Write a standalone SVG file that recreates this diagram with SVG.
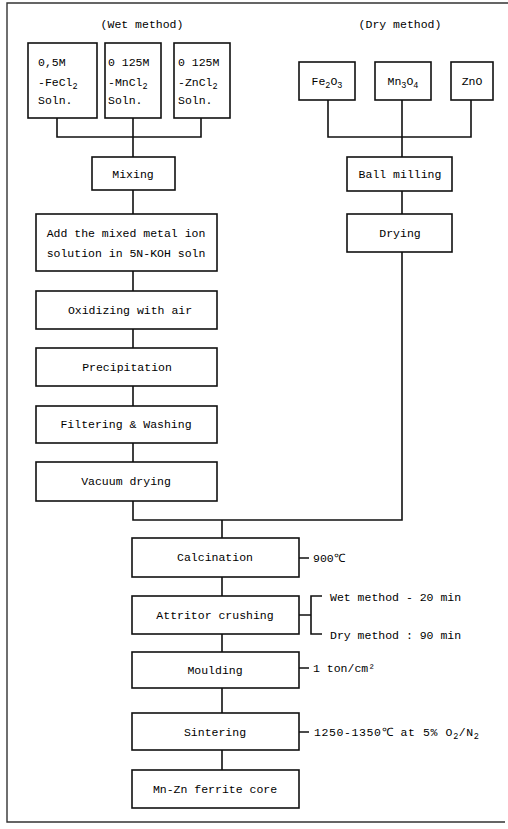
<svg xmlns="http://www.w3.org/2000/svg" width="508" height="829" viewBox="0 0 508 829">
<style>
.box{fill:#fff;stroke:#111;stroke-width:1.6}
.ln{fill:none;stroke:#111;stroke-width:1.6}
.frame{fill:none;stroke:#333;stroke-width:1.4}
text{font-family:"Liberation Mono","DejaVu Sans Mono",monospace;font-size:11.5px;fill:#000}
.c{text-anchor:middle}
.s{font-size:8.5px}
</style>
<rect width="508" height="829" fill="#fff"/>
<path class="frame" d="M508 3H7V822H505"/>
<g id="headers">
<text class="c" x="142" y="28">(Wet method)</text>
<text class="c" x="400" y="28">(Dry method)</text>
</g>
<g id="connectors">
<path class="ln" d="M57 118V137H201V118M133 118V157"/>
<path class="ln" d="M328 100V137H471V100M402 100V157"/>
<path class="ln" d="M133 190V214M133 271V291M133 329V348M133 386V406M133 443V462"/>
<path class="ln" d="M402 191V214"/>
<path class="ln" d="M133 501V520H402V252"/>
<path class="ln" d="M222 520V538M222 577V596M222 634V652M222 688V713M222 750V770"/>
<path class="ln" d="M299 558H309M299 615H311M322 596H311V634H322M299 668H309M299 732H309"/>
</g>
<g id="wet-fecl2"><rect class="box" x="28" y="43" width="69" height="75"/>
<text x="38" y="66">0,5M</text><text x="38" y="86">-FeCl<tspan class="s" dy="3">2</tspan></text><text x="38" y="104">Soln.</text></g>
<g id="wet-mncl2"><rect class="box" x="105" y="43" width="56" height="75"/>
<text x="108" y="66">0 125M</text><text x="108" y="86">-MnCl<tspan class="s" dy="3">2</tspan></text><text x="108" y="104">Soln.</text></g>
<g id="wet-zncl2"><rect class="box" x="174" y="43" width="56" height="75"/>
<text x="178" y="66">0 125M</text><text x="178" y="86">-ZnCl<tspan class="s" dy="3">2</tspan></text><text x="178" y="104">Soln.</text></g>
<g id="dry-fe2o3"><rect class="box" x="299" y="62" width="56" height="38"/>
<text class="c" x="327" y="85">Fe<tspan class="s" dy="3">2</tspan><tspan dy="-3">O</tspan><tspan class="s" dy="3">3</tspan></text></g>
<g id="dry-mn3o4"><rect class="box" x="375" y="62" width="56" height="38"/>
<text class="c" x="403" y="85">Mn<tspan class="s" dy="3">3</tspan><tspan dy="-3">O</tspan><tspan class="s" dy="3">4</tspan></text></g>
<g id="dry-zno"><rect class="box" x="451" y="62" width="42" height="38"/>
<text class="c" x="472" y="85">ZnO</text></g>
<g id="mixing"><rect class="box" x="92" y="157" width="83" height="33"/><text class="c" x="133" y="178">Mixing</text></g>
<g id="ball-milling"><rect class="box" x="347" y="157" width="105" height="34"/><text class="c" x="400" y="178">Ball milling</text></g>
<g id="drying"><rect class="box" x="347" y="214" width="105" height="38"/><text class="c" x="400" y="237">Drying</text></g>
<g id="add-solution"><rect class="box" x="36" y="214" width="181" height="57"/>
<text class="c" x="126" y="237">Add the mixed metal ion</text><text class="c" x="126" y="257">solution in 5N-KOH soln</text></g>
<g id="oxidizing"><rect class="box" x="36" y="291" width="181" height="38"/><text class="c" x="130" y="314">Oxidizing with air</text></g>
<g id="precipitation"><rect class="box" x="36" y="348" width="181" height="38"/><text class="c" x="127" y="371">Precipitation</text></g>
<g id="filtering"><rect class="box" x="36" y="406" width="181" height="37"/><text class="c" x="126" y="428">Filtering &amp; Washing</text></g>
<g id="vacuum-drying"><rect class="box" x="36" y="462" width="181" height="39"/><text class="c" x="126" y="485">Vacuum drying</text></g>
<g id="calcination"><rect class="box" x="132" y="538" width="167" height="39"/><text class="c" x="215" y="561">Calcination</text>
<text x="313" y="562">900℃</text></g>
<g id="attritor"><rect class="box" x="132" y="596" width="167" height="38"/><text class="c" x="215" y="619">Attritor crushing</text>
<text x="330" y="601">Wet method - 20 min</text><text x="330" y="639">Dry method : 90 min</text></g>
<g id="moulding"><rect class="box" x="132" y="652" width="167" height="36"/><text class="c" x="215" y="674">Moulding</text>
<text x="313" y="672">1 ton/cm²</text></g>
<g id="sintering"><rect class="box" x="132" y="713" width="167" height="37"/><text class="c" x="215" y="736">Sintering</text>
<text x="314" y="736" letter-spacing="0.6">1250-1350℃ at 5% O<tspan class="s" dy="3">2</tspan><tspan dy="-3">/N</tspan><tspan class="s" dy="3">2</tspan></text></g>
<g id="ferrite-core"><rect class="box" x="132" y="770" width="167" height="38"/><text class="c" x="215" y="793">Mn-Zn ferrite core</text></g>
</svg>
